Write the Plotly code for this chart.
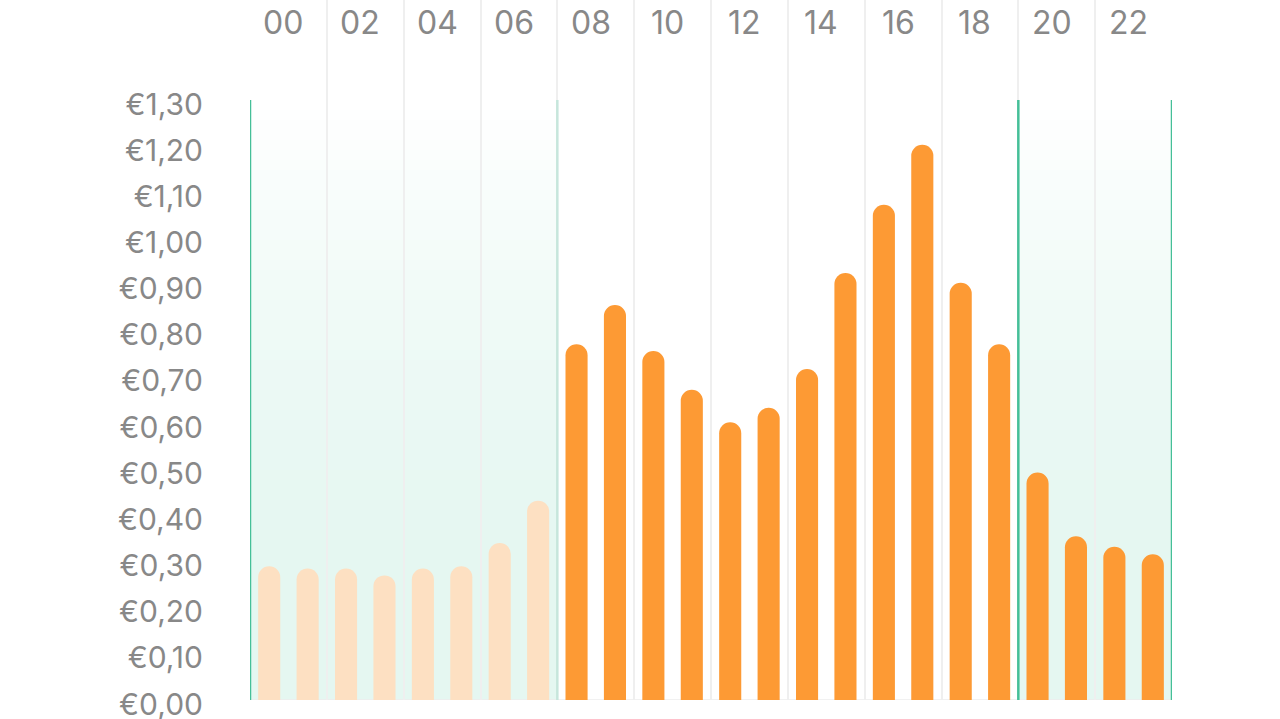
import plotly.graph_objects as go

hours = list(range(24))
prices = [0.29, 0.285, 0.285, 0.27, 0.285, 0.29, 0.34, 0.432,
          0.771, 0.856, 0.756, 0.672, 0.602, 0.633, 0.717, 0.925,
          1.073, 1.203, 0.904, 0.771, 0.493, 0.355, 0.332, 0.316]
past_hours = 8  # hours 00-07 shown in light colour
hour_labels = ["00", "02", "04", "06", "08", "10", "12", "14", "16", "18", "20", "22"]
y_ticks = [round(0.1 * i, 2) for i in range(14)]
y_text = ["€" + f"{v:.2f}".replace(".", ",") for v in y_ticks]
green_bands = [(-0.5, 7.5), (19.5, 23.5)]

LIGHT = "#FDE0C2"
ORANGE = "#FD9A34"
GREY = "#888888"
FONT = "Inter"

colors = [LIGHT if h < past_hours else ORANGE for h in hours]

PLOT_H = 700  # plot-area height in px
PX_PER_UNIT = 461.5

fig = go.Figure()
fig.add_trace(go.Bar(x=hours, y=prices, marker=dict(color=colors, line=dict(width=0)),
                     width=0.575, hoverinfo="skip"))

shapes = []
# vertical gradient bands (white at top -> mint at bottom)
n = 60
top, bottom = 1.30, 0.0
c_top = (255, 255, 255)
c_bot = (229, 247, 241)
for x0, x1 in green_bands:
    for i in range(n):
        t = min(1.0, (i / (n - 1)) / 0.8)
        t = 1 - (1 - t) ** 1.5
        ya = top - (top - bottom) * i / n
        yb = top - (top - bottom) * (i + 1) / n
        c = tuple(round(c_top[k] + (c_bot[k] - c_top[k]) * t) for k in range(3))
        shapes.append(dict(type="rect", xref="x", yref="y", x0=x0, x1=x1, y0=yb, y1=ya,
                           fillcolor=f"rgb{c}", line=dict(width=0), layer="below"))
# band edge lines
edge_lines = [(-0.5, "#45bf98"), (7.5, "#c6e6dc"), (19.5, "#45bf98"), (23.5, "#45bf98")]
for xv, col in edge_lines:
    shapes.append(dict(type="line", xref="x", yref="y", x0=xv, x1=xv, y0=0, y1=1.30,
                       line=dict(color=col, width=2.5), layer="above"))
# baseline
shapes.append(dict(type="line", xref="x", yref="y", x0=-0.5, x1=23.5, y0=0, y1=0,
                   line=dict(color="#ececec", width=1.5), layer="below"))

annotations = []
for i, lab in enumerate(hour_labels):
    annotations.append(dict(x=2 * i + 0.37, y=1 - 22.5 / PLOT_H, xref="x", yref="paper",
                            text=lab, showarrow=False, xanchor="center", yanchor="middle",
                            font=dict(size=32, color=GREY, family=FONT)))

fig.update_layout(
    width=1280, height=719,
    margin=dict(l=250, r=108, t=0, b=19, autoexpand=False),
    paper_bgcolor="white", plot_bgcolor="white",
    showlegend=False,
    barcornerradius=11,
    shapes=shapes,
    annotations=annotations,
    font=dict(family=FONT, color=GREY),
    xaxis=dict(range=[-0.5, 23.5], tickvals=[1.5 + 2 * k for k in range(11)],
               showticklabels=False, ticks="", showgrid=True, gridcolor="#efefef",
               gridwidth=1.5, zeroline=False, showline=False, fixedrange=True,
               automargin=False),
    yaxis=dict(range=[0, PLOT_H / PX_PER_UNIT], tickvals=y_ticks, ticktext=y_text,
               showgrid=False, zeroline=False, showline=False, ticks="",
               ticklabelstandoff=46, ticklabelshift=4, ticklabeloverflow="allow",
               automargin=False,
               tickfont=dict(size=30, color=GREY, family=FONT), fixedrange=True),
)

fig.write_html("out.html", config={"displayModeBar": False},
               post_script="document.body.style.margin='0';document.body.style.overflow='hidden';")
